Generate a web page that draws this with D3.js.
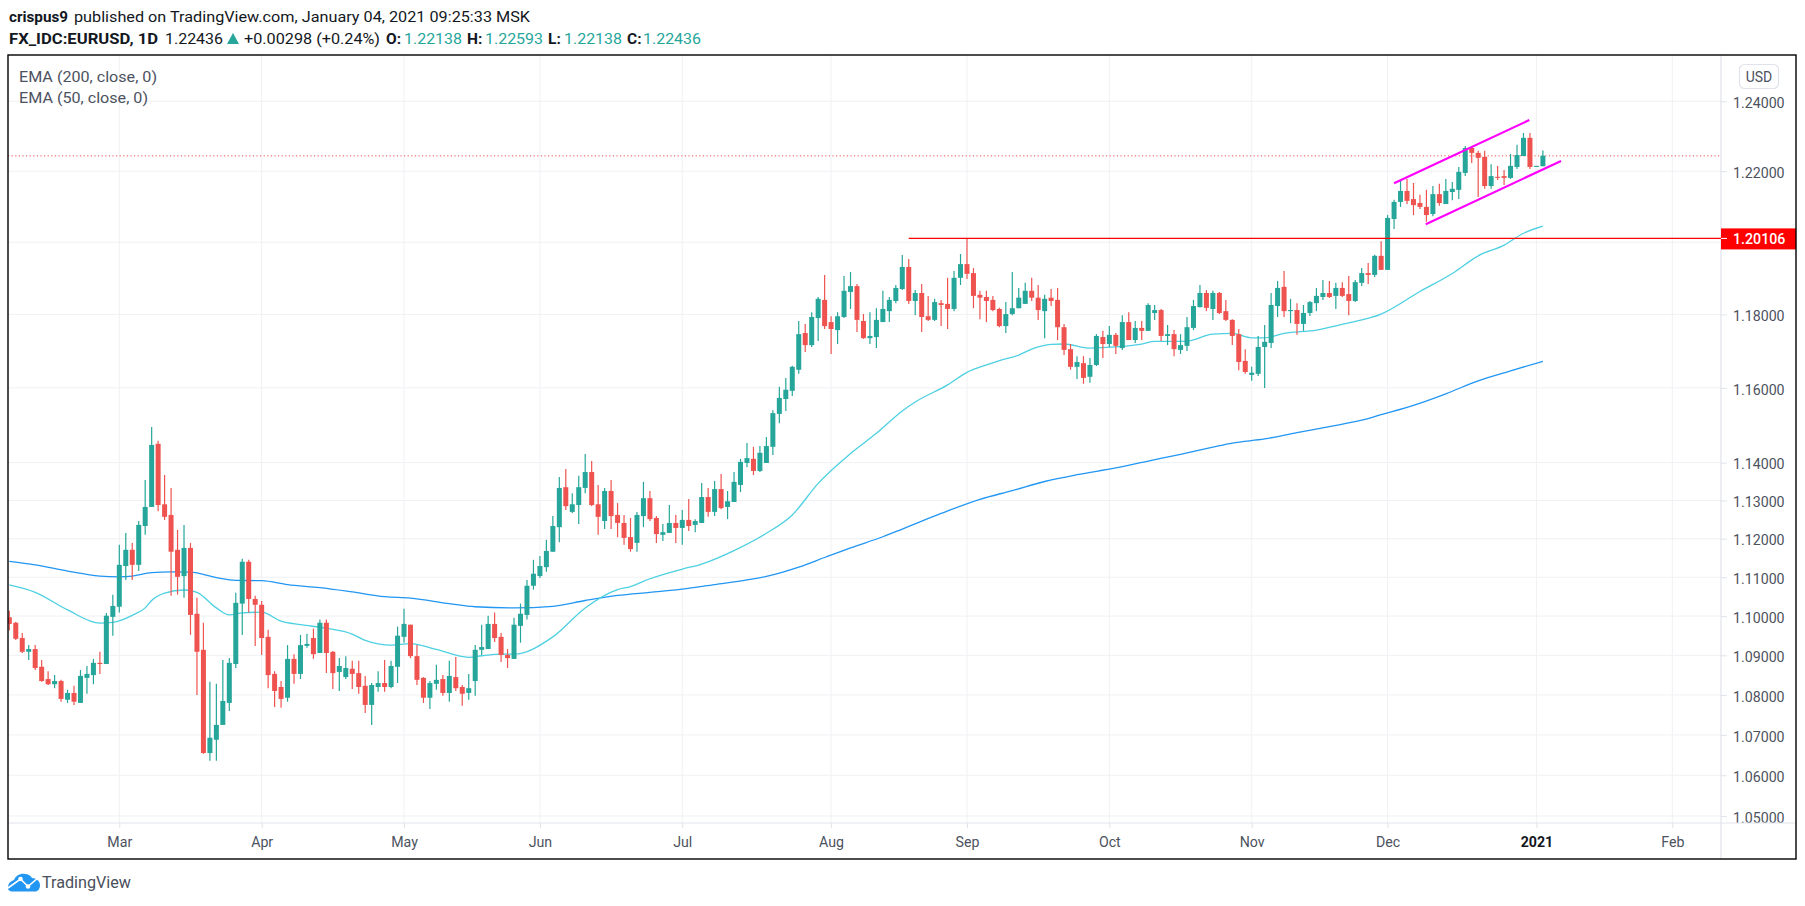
<!DOCTYPE html>
<html><head><meta charset="utf-8">
<script src="https://cdnjs.cloudflare.com/ajax/libs/d3/7.8.5/d3.min.js"></script>
<style>html,body{margin:0;padding:0;background:#fff;overflow:hidden}svg{display:block}text{font-family:Roboto,sans-serif}</style>
</head><body><svg id="c" width="1805" height="906"></svg>
<script>
const opens=[1.0997,1.0983,1.0944,1.0909,1.0916,1.0871,1.0840,1.0827,1.0835,1.0788,
1.0805,1.0780,1.0843,1.0850,1.0881,1.0878,1.0998,1.1024,1.1129,1.1171,
1.1132,1.1233,1.1283,1.1450,1.1290,1.1262,1.1171,1.1103,1.1176,1.1006,
1.0914,1.0655,1.0688,1.0725,1.0780,1.0878,1.1032,1.1140,1.1044,1.1029,
1.0947,1.0853,1.0820,1.0793,1.0891,1.0853,1.0924,1.0944,1.0906,1.0983,
1.0909,1.0858,1.0845,1.0866,1.0855,1.0823,1.0775,1.0820,1.0830,1.0820,
1.0871,1.0947,1.0978,1.0898,1.0843,1.0793,1.0828,1.0840,1.0805,1.0845,
1.0820,1.0805,1.0835,1.0914,1.0916,1.0980,1.0947,1.0901,1.0891,1.0975,
1.1003,1.1078,1.1103,1.1126,1.1166,1.1230,1.1335,1.1270,1.1288,1.1333,
1.1375,1.1290,1.1246,1.1325,1.1262,1.1241,1.1204,1.1189,1.1259,1.1306,
1.1254,1.1210,1.1215,1.1241,1.1228,1.1249,1.1236,1.1241,1.1309,1.1270,
1.1330,1.1283,1.1296,1.1341,1.1399,1.1410,1.1378,1.1399,1.1442,1.1530,
1.1570,1.1592,1.1649,1.1749,1.1716,1.1790,1.1840,1.1779,1.1757,1.1793,
1.1862,1.1878,1.1782,1.1735,1.1738,1.1779,1.1809,1.1837,1.1870,1.1931,
1.1837,1.1859,1.1795,1.1785,1.1831,1.1829,1.1815,1.1901,1.1939,1.1914,
1.1854,1.1848,1.1840,1.1815,1.1768,1.1801,1.1817,1.1829,1.1865,1.1846,
1.1809,1.1846,1.1840,1.1765,1.1705,1.1657,1.1667,1.1630,1.1662,1.1738,
1.1719,1.1744,1.1708,1.1779,1.1730,1.1763,1.1755,1.1804,1.1812,1.1741,
1.1746,1.1703,1.1714,1.1763,1.1820,1.1859,1.1815,1.1859,1.1809,1.1785,
1.1746,1.1673,1.1635,1.1638,1.1711,1.1722,1.1823,1.1876,1.1809,1.1812,
1.1774,1.1804,1.1831,1.1848,1.1859,1.1851,1.1873,1.1856,1.1837,1.1887,
1.1914,1.1909,1.1962,1.1923,1.2065,1.2113,1.2144,1.2121,1.2110,1.2099,
1.2079,1.2135,1.2107,1.2141,1.2147,1.2195,1.2266,1.2252,1.2241,1.2158,
1.2184,1.2186,1.2181,1.2212,1.2243,1.2295,1.2212,1.2214];
const highs=[1.1014,1.0985,1.0957,1.0926,1.0926,1.0888,1.0860,1.0850,1.0838,1.0813,
1.0823,1.0863,1.0873,1.0891,1.0909,1.1008,1.1055,1.1184,1.1215,1.1189,
1.1246,1.1354,1.1495,1.1458,1.1367,1.1333,1.1223,1.1236,1.1189,1.1047,
1.0983,1.0833,1.0828,1.0888,1.0893,1.1060,1.1148,1.1145,1.1052,1.1039,
1.0965,1.0860,1.0835,1.0926,1.0903,1.0952,1.0955,1.0968,1.0991,1.0991,
1.0911,1.0893,1.0898,1.0886,1.0886,1.0848,1.0830,1.0860,1.0888,1.0886,
1.0973,1.1019,1.0978,1.0926,1.0845,1.0835,1.0876,1.0850,1.0886,1.0896,
1.0825,1.0853,1.0926,1.0978,1.1001,1.1009,1.0957,1.0916,1.0996,1.1032,
1.1093,1.1145,1.1155,1.1197,1.1259,1.1362,1.1383,1.1319,1.1365,1.1423,
1.1404,1.1341,1.1333,1.1354,1.1293,1.1262,1.1254,1.1270,1.1349,1.1325,
1.1259,1.1238,1.1288,1.1262,1.1275,1.1304,1.1251,1.1346,1.1333,1.1351,
1.1370,1.1325,1.1375,1.1410,1.1452,1.1442,1.1444,1.1468,1.1540,1.1603,
1.1627,1.1660,1.1782,1.1774,1.1806,1.1848,1.1909,1.1795,1.1806,1.1906,
1.1917,1.1884,1.1801,1.1806,1.1817,1.1865,1.1848,1.1881,1.1964,1.1953,
1.1867,1.1884,1.1851,1.1843,1.1840,1.1901,1.1920,1.1967,1.2011,1.1928,
1.1865,1.1865,1.1851,1.1818,1.1834,1.1917,1.1873,1.1887,1.1901,1.1881,
1.1854,1.1870,1.1873,1.1774,1.1719,1.1686,1.1686,1.1681,1.1746,1.1755,
1.1768,1.1749,1.1798,1.1806,1.1782,1.1782,1.1831,1.1826,1.1815,1.1771,
1.1757,1.1746,1.1793,1.1840,1.1881,1.1867,1.1865,1.1862,1.1840,1.1787,
1.1760,1.1705,1.1657,1.1741,1.1771,1.1859,1.1892,1.1920,1.1843,1.1831,
1.1826,1.1837,1.1873,1.1895,1.1892,1.1887,1.1889,1.1906,1.1895,1.1928,
1.1942,1.1965,1.2003,1.2076,1.2119,1.2175,1.2178,1.2167,1.2133,1.2147,
1.2158,1.2164,1.2178,1.2169,1.2212,1.2272,1.2269,1.2258,1.2258,1.2220,
1.2215,1.2203,1.2249,1.2275,1.2309,1.2309,1.2215,1.2259];
const lows=[1.0963,1.0939,1.0906,1.0888,1.0863,1.0833,1.0825,1.0817,1.0783,1.0780,
1.0775,1.0780,1.0803,1.0827,1.0853,1.0878,1.0950,1.1009,1.1093,1.1093,
1.1116,1.1210,1.1283,1.1272,1.1249,1.1052,1.1055,1.1047,1.0952,1.0800,
1.0653,1.0636,1.0636,1.0725,1.0760,1.0868,1.0952,1.1009,1.0924,1.0901,
1.0817,1.0770,1.0768,1.0783,1.0828,1.0840,1.0919,1.0891,1.0906,1.0855,
1.0815,1.0810,1.0840,1.0815,1.0803,1.0755,1.0725,1.0808,1.0808,1.0817,
1.0830,1.0932,1.0893,1.0825,1.0780,1.0765,1.0813,1.0798,1.0783,1.0810,
1.0773,1.0788,1.0798,1.0901,1.0916,1.0934,1.0883,1.0868,1.0891,1.0932,
1.0991,1.1068,1.1098,1.1114,1.1166,1.1191,1.1275,1.1267,1.1238,1.1319,
1.1285,1.1210,1.1225,1.1225,1.1204,1.1184,1.1166,1.1166,1.1230,1.1246,
1.1189,1.1194,1.1215,1.1189,1.1184,1.1220,1.1217,1.1241,1.1257,1.1259,
1.1277,1.1251,1.1296,1.1322,1.1388,1.1367,1.1375,1.1399,1.1420,1.1505,
1.1538,1.1578,1.1638,1.1697,1.1711,1.1727,1.1760,1.1692,1.1719,1.1790,
1.1815,1.1752,1.1733,1.1719,1.1708,1.1779,1.1779,1.1831,1.1867,1.1829,
1.1798,1.1752,1.1782,1.1782,1.1768,1.1760,1.1809,1.1881,1.1898,1.1817,
1.1787,1.1779,1.1809,1.1765,1.1749,1.1798,1.1817,1.1829,1.1837,1.1785,
1.1735,1.1823,1.1730,1.1689,1.1649,1.1624,1.1611,1.1614,1.1659,1.1681,
1.1711,1.1692,1.1703,1.1730,1.1722,1.1730,1.1755,1.1785,1.1727,1.1716,
1.1686,1.1692,1.1700,1.1757,1.1820,1.1809,1.1785,1.1801,1.1782,1.1716,
1.1648,1.1638,1.1619,1.1632,1.1600,1.1708,1.1793,1.1793,1.1776,1.1744,
1.1755,1.1796,1.1809,1.1840,1.1845,1.1815,1.1848,1.1798,1.1834,1.1878,
1.1884,1.1903,1.1923,1.1923,1.2037,1.2099,1.2107,1.2076,1.2093,1.2057,
1.2073,1.2102,1.2107,1.2118,1.2121,1.2186,1.2223,1.2127,1.2150,1.2150,
1.2175,1.2161,1.2178,1.2206,1.2243,1.2206,1.2212,1.2214];
const closes=[1.0980,1.0942,1.0909,1.0916,1.0868,1.0835,1.0827,1.0835,1.0790,1.0805,
1.0783,1.0848,1.0853,1.0881,1.0878,1.1001,1.1026,1.1132,1.1171,1.1132,
1.1236,1.1283,1.1447,1.1288,1.1257,1.1166,1.1101,1.1176,1.1003,1.0909,
1.0655,1.0693,1.0725,1.0785,1.0881,1.1034,1.1140,1.1044,1.1029,1.0944,
1.0850,1.0810,1.0790,1.0891,1.0853,1.0926,1.0929,1.0903,1.0983,1.0906,
1.0855,1.0873,1.0868,1.0853,1.0820,1.0775,1.0825,1.0830,1.0820,1.0873,
1.0950,1.0980,1.0898,1.0838,1.0793,1.0830,1.0838,1.0805,1.0848,1.0817,
1.0803,1.0817,1.0914,1.0921,1.0980,1.0944,1.0901,1.0893,1.0978,1.1006,
1.1078,1.1109,1.1129,1.1168,1.1233,1.1333,1.1285,1.1290,1.1335,1.1375,
1.1288,1.1257,1.1325,1.1259,1.1241,1.1202,1.1173,1.1262,1.1306,1.1251,
1.1212,1.1217,1.1241,1.1228,1.1249,1.1233,1.1246,1.1309,1.1270,1.1330,
1.1280,1.1298,1.1349,1.1402,1.1412,1.1378,1.1426,1.1444,1.1532,1.1573,
1.1595,1.1657,1.1746,1.1716,1.1793,1.1843,1.1768,1.1760,1.1795,1.1865,
1.1878,1.1785,1.1735,1.1741,1.1785,1.1815,1.1840,1.1873,1.1931,1.1837,
1.1859,1.1793,1.1785,1.1834,1.1826,1.1815,1.1901,1.1939,1.1912,1.1851,
1.1846,1.1837,1.1812,1.1768,1.1801,1.1817,1.1846,1.1865,1.1846,1.1812,
1.1843,1.1837,1.1765,1.1703,1.1657,1.1670,1.1627,1.1662,1.1741,1.1719,
1.1744,1.1714,1.1779,1.1730,1.1763,1.1755,1.1826,1.1812,1.1741,1.1746,
1.1705,1.1716,1.1765,1.1823,1.1859,1.1818,1.1859,1.1804,1.1785,1.1741,
1.1670,1.1643,1.1641,1.1711,1.1725,1.1826,1.1873,1.1809,1.1812,1.1774,
1.1804,1.1834,1.1851,1.1859,1.1848,1.1873,1.1851,1.1837,1.1889,1.1914,
1.1909,1.1962,1.1923,1.2068,1.2113,1.2144,1.2116,1.2104,1.2099,1.2076,
1.2135,1.2110,1.2144,1.2150,1.2198,1.2266,1.2252,1.2238,1.2158,1.2186,
1.2181,1.2181,1.2215,1.2246,1.2295,1.2212,1.2215,1.2244];

const ema200Bars=[0,4,9,14,17,19,22,25,28,32,35,39,43,48,53,58,62,68,72,78,84,89,94,99,104,109,114,117,122,126,130,135,138,144,150,155,160,165,171,176,181,186,189,194,199,204,209,212,217,222,227,232,237];
const ema200Vals=[1.1141,1.1132,1.1116,1.1103,1.1101,1.1103,1.1112,1.1114,1.1113,1.1099,1.1092,1.1091,1.1081,1.1073,1.1062,1.1050,1.1046,1.1032,1.1024,1.1021,1.1025,1.1040,1.1053,1.1061,1.1069,1.1081,1.1093,1.1102,1.1126,1.1151,1.1176,1.1205,1.1225,1.1266,1.1303,1.1326,1.1350,1.1368,1.1386,1.1404,1.1422,1.1441,1.1452,1.1463,1.1480,1.1496,1.1513,1.1528,1.1553,1.1584,1.1619,1.1646,1.1672];
const ema50Bars=[0,4,9,14,16,19,21,22,24,27,29,32,34,36,39,42,45,49,53,55,59,62,66,71,73,76,78,84,89,94,96,99,104,107,112,117,121,125,130,134,138,140,145,148,151,153,156,158,161,163,167,171,175,177,180,182,186,189,192,194,197,202,207,212,218,223,227,231,234,237];
const ema50Vals=[1.1080,1.1061,1.1016,1.0982,1.0984,1.1002,1.1021,1.1040,1.1059,1.1067,1.1061,1.1021,1.1003,1.1008,1.1010,1.0987,1.0978,1.0969,1.0954,1.0938,1.0926,1.0930,1.0915,1.0895,1.0899,1.0903,1.0903,1.0947,1.1021,1.1068,1.1076,1.1096,1.1121,1.1134,1.1169,1.1214,1.1262,1.1345,1.1424,1.1478,1.1538,1.1562,1.1608,1.1642,1.1662,1.1674,1.1689,1.1705,1.1718,1.1719,1.1708,1.1711,1.1719,1.1726,1.1726,1.1727,1.1746,1.1748,1.1736,1.1736,1.1748,1.1757,1.1777,1.1801,1.1863,1.1913,1.1962,1.1992,1.2025,1.2045];

const priceTicks=[1.05,1.06,1.07,1.08,1.09,1.10,1.11,1.12,1.13,1.14,1.16,1.18,1.20,1.22,1.24];
const hiddenPriceLabel=1.20;
const monthBars=[17,39,61,82,104,127,148,170,192,213,236,257];
const monthLabels=["Mar","Apr","May","Jun","Jul","Aug","Sep","Oct","Nov","Dec","2021","Feb"];
const levelPrice=1.20106, levelStartBar=139, lastPrice=1.22436;
const channelUpperBars=[214,234.9], channelUpperVals=[1.2166,1.2346];
const channelLowerBars=[218.9,239.8], channelLowerVals=[1.2050,1.2229];

const UP="#26a69a",DOWN="#ef5350",GRID="#f0f1f4",AXIS="#e0e3eb",TXT="#4c525e",DARK="#131722";
const L=8,T=55,R=1796,B=859,PR=1721,PB=823;
const svg=d3.select("#c");
const x=d3.scaleLinear().domain([0,237]).range([9.3,1542.9]);
const y=d3.scaleLog().domain([1.05,1.24]).range([816,101.3]);

// grid
svg.append("g").selectAll("line").data(monthBars).join("line")
 .attr("x1",d=>x(d)).attr("x2",d=>x(d)).attr("y1",T).attr("y2",PB).attr("stroke",GRID).attr("stroke-width",1);
svg.append("g").selectAll("line").data(priceTicks).join("line")
 .attr("x1",L).attr("x2",PR).attr("y1",d=>y(d)).attr("y2",d=>y(d)).attr("stroke",GRID).attr("stroke-width",1);

// axes
const yAxis=d3.axisRight(y).tickValues(priceTicks.filter(d=>d!==hiddenPriceLabel)).tickFormat(d3.format(".5f")).tickSize(6).tickPadding(6);
const yG=svg.append("g").attr("transform",`translate(${PR},0)`).call(yAxis);
yG.select(".domain").remove();
yG.selectAll("line").attr("stroke",AXIS);
yG.selectAll("text").attr("fill",TXT).attr("font-size",14.2).attr("font-family","Roboto").attr("dy","1.05em").attr("transform","translate(0,-8.6)");
const xAxis=d3.axisBottom(x).tickValues(monthBars).tickFormat(d=>monthLabels[monthBars.indexOf(d)]).tickSize(5).tickPadding(9);
const xG=svg.append("g").attr("transform",`translate(0,${PB})`).call(xAxis);
xG.select(".domain").remove();
xG.selectAll("line").attr("stroke",AXIS);
xG.selectAll("text").attr("fill",d=>d===236?DARK:TXT).attr("font-weight",d=>d===236?700:400)
 .attr("font-size",14.2).attr("font-family","Roboto");

svg.append("line").attr("x1",L).attr("x2",R).attr("y1",PB).attr("y2",PB).attr("stroke",AXIS).attr("stroke-width",1.2);
svg.append("line").attr("x1",PR).attr("x2",PR).attr("y1",T).attr("y2",B).attr("stroke",AXIS).attr("stroke-width",1.2);

// plot clip
svg.append("clipPath").attr("id","pane").append("rect").attr("x",L).attr("y",T).attr("width",PR-L).attr("height",PB-T);
const plot=svg.append("g").attr("clip-path","url(#pane)");

// last price dotted
plot.append("line").attr("x1",L).attr("x2",PR).attr("y1",y(lastPrice)).attr("y2",y(lastPrice))
 .attr("stroke",DOWN).attr("stroke-width",1).attr("stroke-dasharray","1.2 2.4");

// EMA lines
const lineGen=d3.line().x(d=>x(d[0])).y(d=>y(d[1])).curve(d3.curveMonotoneX);
plot.append("path").attr("d",lineGen(d3.zip(ema200Bars,ema200Vals))).attr("fill","none").attr("stroke","#2196f3").attr("stroke-width",1.3);
plot.append("path").attr("d",lineGen(d3.zip(ema50Bars,ema50Vals))).attr("fill","none").attr("stroke","#4dd0e1").attr("stroke-width",1.3);

// candles
const bars=d3.range(opens.length).map(i=>({i,o:opens[i],h:highs[i],l:lows[i],c:closes[i]}));
const col=d=>d.c>=d.o?UP:DOWN;
plot.append("g").selectAll("line").data(bars).join("line")
 .attr("x1",d=>x(d.i)).attr("x2",d=>x(d.i)).attr("y1",d=>y(d.h)).attr("y2",d=>y(d.l)).attr("stroke",col).attr("stroke-width",1.2);
plot.append("g").selectAll("rect").data(bars).join("rect")
 .attr("x",d=>x(d.i)-2.5).attr("width",5)
 .attr("y",d=>y(Math.max(d.o,d.c)))
 .attr("height",d=>Math.max(1,Math.abs(y(d.o)-y(d.c)))).attr("fill",col);

// level line
plot.append("line").attr("x1",x(levelStartBar)).attr("x2",PR).attr("y1",y(levelPrice)).attr("y2",y(levelPrice)).attr("stroke","#ff0000").attr("stroke-width",1.2);

// channel
const chan=d3.line().x(d=>x(d[0])).y(d=>y(d[1]));
[[channelUpperBars,channelUpperVals],[channelLowerBars,channelLowerVals]].forEach(([b,v])=>{
 plot.append("path").attr("d",chan(d3.zip(b,v))).attr("fill","none").attr("stroke","#ff00ff").attr("stroke-width",2.2);
});

// level tag
svg.append("rect").attr("x",PR).attr("y",y(levelPrice)-10).attr("width",R-PR).attr("height",21).attr("fill","#ff0000");
svg.append("line").attr("x1",PR).attr("x2",PR+6).attr("y1",y(levelPrice)).attr("y2",y(levelPrice)).attr("stroke","#fff");
svg.append("text").attr("x",PR+12).attr("y",y(levelPrice)+5.5).attr("fill","#fff").attr("font-size",14.2).attr("font-weight",500).text(d3.format(".5f")(levelPrice));

// currency box
svg.append("rect").attr("x",1739.5).attr("y",64.5).attr("width",39).attr("height",24).attr("rx",5).attr("fill","#fff").attr("stroke",AXIS).attr("stroke-width",1.2);
svg.append("text").attr("x",1759).attr("y",81.5).attr("text-anchor","middle").attr("fill",TXT).attr("font-size",14).text("USD");

// frame
svg.append("rect").attr("x",L).attr("y",T).attr("width",R-L).attr("height",B-T).attr("fill","none").attr("stroke","#000").attr("stroke-width",1.4);

// header text
function t(s,x0,yb,w,opt={}){
 const e=svg.append("text").attr("x",x0).attr("y",yb).attr("font-size",opt.size||15.5).attr("fill",opt.fill||DARK).attr("font-weight",opt.bold?700:400).text(s);
 if(w)e.attr("textLength",w).attr("lengthAdjust","spacingAndGlyphs");
}
t("crispus9",9,22,59,{bold:1});
t("published on TradingView.com, January 04, 2021 09:25:33 MSK",74,22,456);
t("FX_IDC:EURUSD, 1D",9,44,149,{bold:1});
t("1.22436",165,44,58);
svg.append("path").attr("d","M227 44 L233 33 L239 44 Z").attr("fill",UP);
t("+0.00298 (+0.24%)",244,44,136);
[["O:",386,"1.22138",404],["H:",467,"1.22593",485],["L:",548,"1.22138",564],["C:",627,"1.22436",643]].forEach(a=>{
 t(a[0],a[1],44,0,{bold:1}); t(a[2],a[3],44,58,{fill:UP});
});
t("EMA (200, close, 0)",19,82,138,{fill:TXT});
t("EMA (50, close, 0)",19,103,129,{fill:TXT});

// logo
const logo=svg.append("g");
logo.append("path").attr("d","M8 888 C8 883 11 881 14 880 C16 875 21 873 25 874 C28 874 31 876 32 878 C36 878 40 881 40 885 C40 889 38 891.5 35 891.5 L12 891.5 C9.5 891.5 8 890 8 888 Z").attr("fill","#2196f3");
logo.append("path").attr("d","M8 888 L20.5 879 L28 886.5 L39 877").attr("fill","none").attr("stroke","#fff").attr("stroke-width",1.6);
logo.append("circle").attr("cx",20.5).attr("cy",879).attr("r",2.3).attr("fill","#fff");
logo.append("circle").attr("cx",28).attr("cy",886.5).attr("r",2.3).attr("fill","#fff");
t("TradingView",42,888,89,{size:17,fill:"#4a4f5c"});
</script></body></html>
